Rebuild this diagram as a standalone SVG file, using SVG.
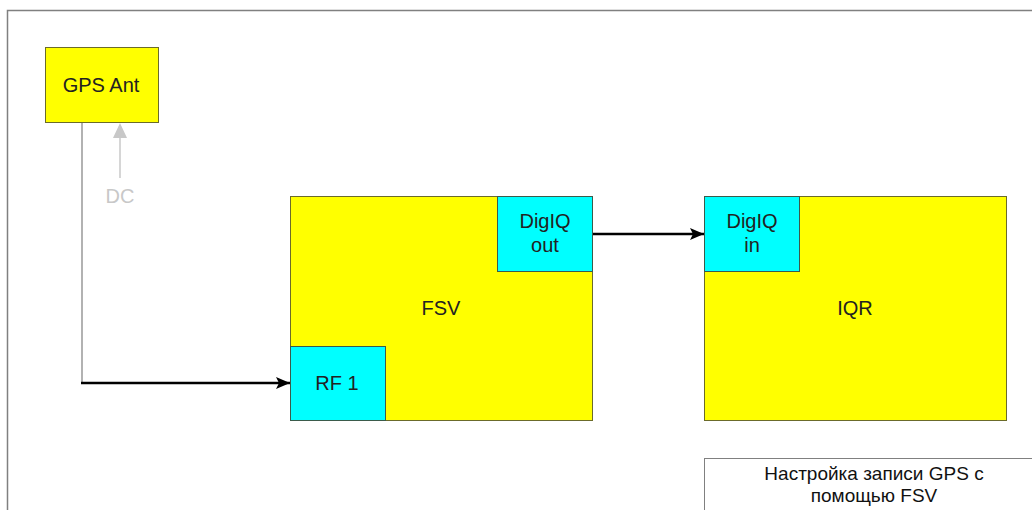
<svg xmlns="http://www.w3.org/2000/svg" width="1032" height="510" viewBox="0 0 1032 510">
<style>
.blk{fill:#ffff00;stroke:#6b6b2a;stroke-width:1}
.port{fill:#00ffff;stroke:#3b5b4b;stroke-width:1}
text{font-family:"Liberation Sans",Arial,sans-serif;font-size:20px;fill:#222;text-anchor:middle}
.ttl{font-size:19px;fill:#111}
</style>
<defs>
<marker id="ah" markerWidth="14" markerHeight="14" refX="14" refY="7" orient="auto" markerUnits="userSpaceOnUse"><path d="M0,1 L14,7 L0,13 L3,7 Z" fill="#000"/></marker>
</defs>
<rect width="1032" height="510" fill="#fff"/>
<path d="M7.5,510 V10.5 H1040" fill="none" stroke="#808080" stroke-width="1.5"/>
<g id="connectors">
<path d="M82,122 V383" fill="none" stroke="#999" stroke-width="1.5"/>
<path d="M81,383 H290" fill="none" stroke="#000" stroke-width="2.5" marker-end="url(#ah)"/>
<path d="M592,234 H704" fill="none" stroke="#000" stroke-width="2.5" marker-end="url(#ah)"/>
<path d="M120,178 V136" fill="none" stroke="#c8c8c8" stroke-width="1.5"/>
<path d="M120,123 L127,138 L113,138 Z" fill="#c8c8c8"/>
<text x="120" y="203" style="fill:#c8c8c8">DC</text>
</g>
<g id="gps"><rect class="blk" x="45.5" y="47.5" width="113" height="75"/><text x="101" y="92">GPS Ant</text></g>
<g id="fsv"><rect class="blk" x="290.5" y="196.5" width="302" height="224"/><text x="441" y="315">FSV</text></g>
<g id="digiq-out"><rect class="port" x="497.5" y="196.5" width="95" height="75"/><text x="545" y="228">DigIQ</text><text x="545" y="252">out</text></g>
<g id="rf1"><rect class="port" x="290.5" y="346.5" width="95" height="74"/><text x="337" y="390">RF 1</text></g>
<g id="iqr"><rect class="blk" x="704.5" y="196.5" width="302" height="224"/><text x="855" y="315">IQR</text></g>
<g id="digiq-in"><rect class="port" x="704.5" y="196.5" width="95" height="75"/><text x="752" y="228">DigIQ</text><text x="752" y="252">in</text></g>
<g id="title"><rect x="704.5" y="458.5" width="340" height="60" fill="#fff" stroke="#808080" stroke-width="1"/><text class="ttl" x="874" y="480">Настройка записи GPS с</text><text class="ttl" x="874" y="502">помощью FSV</text></g>
</svg>
